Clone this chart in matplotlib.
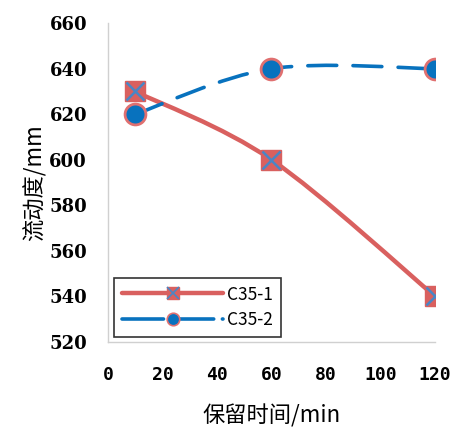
import numpy as np
import matplotlib
matplotlib.use('Agg')
import matplotlib.pyplot as plt
from matplotlib.path import Path
from matplotlib.patches import PathPatch
from matplotlib.legend_handler import HandlerTuple

plt.rcParams['font.family'] = ['Noto Sans CJK SC', 'DejaVu Sans']

# Retention time (min) and slump flow (mm)
time_min = [10, 60, 120]
c35_1 = [630, 600, 540]
c35_2 = [620, 640, 640]
series_names = ['C35-1', 'C35-2']

red = '#D9605F'
blue = '#0872BE'


def smooth_path(xs, ys):
    # Catmull-Rom style cubic bezier through the points (Excel "smoothed line")
    pts = np.column_stack([xs, ys]).astype(float)
    ext = np.vstack([pts[0], pts, pts[-1]])
    verts = [tuple(pts[0])]
    codes = [Path.MOVETO]
    for i in range(1, len(ext) - 2):
        p0, p1, p2, p3 = ext[i - 1], ext[i], ext[i + 1], ext[i + 2]
        c1 = p1 + (p2 - p0) / 6.0
        c2 = p2 - (p3 - p1) / 6.0
        verts += [tuple(c1), tuple(c2), tuple(p2)]
        codes += [Path.CURVE4] * 3
    return Path(verts, codes)


fig = plt.figure(figsize=(4.59, 4.29), dpi=100)
ax = fig.add_axes([0.235, 0.203, 0.713, 0.743])

ax.add_patch(PathPatch(smooth_path(time_min, c35_1), fill=False,
                       edgecolor=red, linewidth=3.2, capstyle='round', zorder=2))
ax.add_patch(PathPatch(smooth_path(time_min, c35_2), fill=False,
                       edgecolor=blue, linewidth=2.6, linestyle=(0, (8, 4.5)),
                       capstyle='round', zorder=2))

# markers
sq, = ax.plot(time_min, c35_1, linestyle='none', marker='s', markersize=14,
              markerfacecolor=red, markeredgecolor=red, zorder=3)
xm, = ax.plot(time_min, c35_1, linestyle='none', marker='x', markersize=13,
              markeredgecolor='#4A86C5', markeredgewidth=1.8, zorder=4)
ci, = ax.plot(time_min, c35_2, linestyle='none', marker='o', markersize=15,
              markerfacecolor=blue, markeredgecolor='#E07070',
              markeredgewidth=2, zorder=3)

# legend handles
h1_line, = ax.plot([], [], color=red, linewidth=3.2, solid_capstyle='round',
                   marker='s', markersize=9, markerfacecolor=red, markeredgecolor=red)
h1_x, = ax.plot([], [], linestyle='none', marker='x', markersize=8,
                markeredgecolor='#4A86C5', markeredgewidth=1.2)
h2_line, = ax.plot([], [], color=blue, linewidth=2.6, linestyle=(0, (11.5, 2.4)),
                   dash_capstyle='round',
                   marker='o', markersize=9, markerfacecolor=blue,
                   markeredgecolor='#E07070', markeredgewidth=1.2)

leg = ax.legend([(h1_line, h1_x), h2_line], series_names,
                handler_map={tuple: HandlerTuple(ndivide=1, pad=0)},
                loc='lower left', bbox_to_anchor=(0.02, 0.015),
                handlelength=5.8, fontsize=12.5, frameon=True, fancybox=False,
                edgecolor='black', borderpad=0.45, labelspacing=0.45,
                handletextpad=0.25, borderaxespad=0)
leg.get_frame().set_linewidth(1.2)

ax.set_xlim(0, 120)
ax.set_ylim(520, 660)
ax.set_xticks(np.arange(0, 121, 20))
ax.set_yticks(np.arange(520, 661, 20))
ax.tick_params(axis='y', length=0, pad=15)
ax.tick_params(axis='x', length=0, pad=17)
for lab in ax.get_yticklabels():
    lab.set_fontfamily('DejaVu Serif')
    lab.set_fontweight('bold')
    lab.set_fontsize(13)
for lab in ax.get_xticklabels():
    lab.set_fontfamily('DejaVu Sans Mono')
    lab.set_fontweight('bold')
    lab.set_fontsize(13)

for s in ['top', 'right']:
    ax.spines[s].set_visible(False)
for s in ['left', 'bottom']:
    ax.spines[s].set_color('#D0D0D0')
    ax.spines[s].set_linewidth(1)

ax.set_xlabel('保留时间/min', fontsize=16, labelpad=15)
ax.set_ylabel('流动度/mm', fontsize=16, labelpad=2)

fig.savefig('out.png', dpi=100)
